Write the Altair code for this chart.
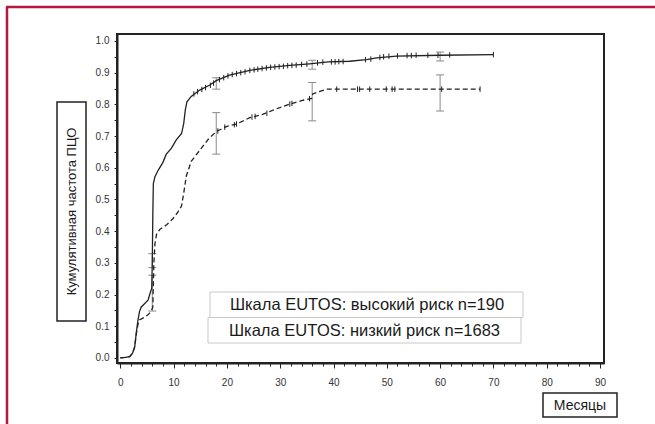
import altair as alt
import pandas as pd

# ---- data ----
solid_t = [0, 1.0, 1.75, 2.3, 2.7, 3.0, 3.3, 3.6, 3.9, 4.5, 5.2, 5.6, 5.9, 6.0, 6.1, 6.2, 6.5, 7.1, 8.0,
           8.6, 9.6, 10.5, 11.5, 11.9, 12.2, 12.5, 13.3, 14.9, 16.8, 18.0, 20.5, 24.3, 28.0, 31.8, 35.5,
           39.0, 43.0, 46.2, 48.1, 51.8, 60.0, 70.0]
solid_v = [0, 0.002, 0.004, 0.015, 0.035, 0.08, 0.118, 0.146, 0.16, 0.17, 0.182, 0.205, 0.22, 0.30, 0.45,
           0.55, 0.572, 0.592, 0.617, 0.642, 0.662, 0.688, 0.708, 0.74, 0.783, 0.808, 0.825, 0.845, 0.861,
           0.875, 0.892, 0.907, 0.917, 0.923, 0.928, 0.934, 0.936, 0.941, 0.947, 0.952, 0.955, 0.957]

dashed_t = [0, 1.0, 1.75, 2.3, 2.7, 3.0, 3.3, 3.6, 4.5, 5.2, 5.8, 6.1, 6.3, 6.5, 6.8, 7.4, 8.7, 9.9, 10.8,
            11.5, 11.9, 12.4, 13.3, 14.9, 16.5, 18.0, 19.9, 21.8, 24.3, 26.8, 29.3, 31.8, 34.3, 35.9, 36.1,
            37.1, 38.7, 67.5]
dashed_v = [0, 0.002, 0.004, 0.015, 0.035, 0.075, 0.105, 0.12, 0.128, 0.136, 0.148, 0.16, 0.30, 0.36, 0.39,
            0.405, 0.42, 0.44, 0.46, 0.48, 0.52, 0.575, 0.62, 0.655, 0.69, 0.714, 0.73, 0.738, 0.758, 0.769,
            0.786, 0.801, 0.813, 0.819, 0.833, 0.839, 0.848, 0.848]

solid_cens_t = [13.8, 14.5, 15.3, 16.0, 16.9, 17.5, 18.6, 19.4, 20.2, 21.0, 21.8, 22.6, 23.4, 24.3, 25.1,
                25.8, 26.6, 27.4, 28.2, 29.0, 29.8, 30.6, 31.4, 32.2, 33.0, 34.0, 35.0, 37.0, 38.0, 39.6,
                40.3, 41.0, 41.8, 46.0, 47.0, 48.7, 49.4, 50.4, 52.0, 53.8, 54.6, 55.5, 57.7, 59.6, 61.8, 70.0]
solid_cens_v = [0.833, 0.840, 0.847, 0.853, 0.860, 0.867, 0.878, 0.884, 0.890, 0.894, 0.897, 0.900, 0.903,
                0.907, 0.909, 0.911, 0.913, 0.915, 0.917, 0.918, 0.919, 0.920, 0.922, 0.923, 0.924, 0.926,
                0.927, 0.931, 0.933, 0.934, 0.934, 0.935, 0.935, 0.941, 0.943, 0.948, 0.950, 0.952, 0.953,
                0.954, 0.954, 0.955, 0.955, 0.955, 0.956, 0.957]

dashed_cens_t = [18.3, 19.6, 21.4, 21.8, 24.7, 25.3, 27.5, 31.8, 32.2, 35.5, 40.6, 44.5, 44.9, 46.8, 49.9,
                 51.0, 51.5, 60.3, 67.5]
dashed_cens_v = [0.716, 0.728, 0.736, 0.738, 0.760, 0.762, 0.772, 0.801, 0.803, 0.818, 0.848, 0.848, 0.848,
                 0.848, 0.848, 0.848, 0.848, 0.848, 0.848]

err_t = [6.0, 18.0, 36.0, 60.0, 6.0, 18.0, 36.0, 60.0]
err_lo = [0.285, 0.848, 0.911, 0.937, 0.148, 0.643, 0.748, 0.779]
err_hi = [0.329, 0.884, 0.939, 0.965, 0.261, 0.774, 0.869, 0.893]

legend_labels = ["Шкала EUTOS: высокий риск n=190", "Шкала EUTOS: низкий риск n=1683"]
y_title = "Кумулятивная частота ПЦО"
x_title = "Месяцы"

x_ticks = list(range(0, 91, 2))
y_ticks = [round(i * 0.05, 2) for i in range(21)]

FONT = "Liberation Sans"
INK = "#222222"

# ---- tables ----
solid_df = pd.DataFrame({"t": solid_t, "v": solid_v})
dashed_df = pd.DataFrame({"t": dashed_t, "v": dashed_v})
cens_df = pd.DataFrame({"t": solid_cens_t + dashed_cens_t, "v": solid_cens_v + dashed_cens_v})
err_df = pd.DataFrame({"t": err_t, "v": err_lo, "v2": err_hi})
one = pd.DataFrame({"k": [0]})

xs = alt.Scale(domain=[-0.62, 90.75], nice=False, zero=False)
ys = alt.Scale(domain=[-0.016, 1.022], nice=False, zero=False)

x_axis = alt.Axis(
    values=x_ticks, title=None, grid=False,
    labelExpr="datum.value % 10 === 0 ? datum.label : ''",
    tickSize={"condition": {"test": "datum.value % 10 === 0", "value": 5}, "value": 3},
    labelPadding=9, labelFlush=False, labelOverlap=False,
    labelFont=FONT, labelFontSize=10, labelColor="#333333",
    domainColor=INK, domainWidth=2, tickColor=INK, tickWidth=1,
)
y_axis = alt.Axis(
    values=y_ticks, title=None, grid=False,
    labelExpr="abs(datum.value*10 - round(datum.value*10)) < 0.000001 ? format(datum.value, '.1f') : ''",
    tickSize=3, labelPadding=5, labelFlush=False, labelOverlap=False,
    labelFont=FONT, labelFontSize=10, labelColor="#333333",
    domainColor=INK, domainWidth=2, tickColor=INK, tickWidth=1,
)

X = alt.X("t:Q", scale=xs, axis=x_axis)
Y = alt.Y("v:Q", scale=ys, axis=y_axis)

solid = alt.Chart(solid_df).mark_line(color=INK, strokeWidth=1.3).encode(x=X, y=Y)
dashed = alt.Chart(dashed_df).mark_line(color=INK, strokeWidth=1.3, strokeDash=[5, 3]).encode(x=X, y=Y)
cens = alt.Chart(cens_df).mark_point(shape="M0,-1L0,1", size=30, filled=False, color=INK,
                                     strokeWidth=1, opacity=1).encode(x=X, y=Y)
err_rule = alt.Chart(err_df).mark_rule(color="#8a8a8a", strokeWidth=1).encode(x=X, y=Y, y2="v2:Q")
err_lo_cap = alt.Chart(err_df).mark_point(shape="stroke", size=64, color="#8a8a8a", strokeWidth=1,
                                          opacity=1).encode(x=X, y=Y)
err_hi_cap = alt.Chart(err_df).mark_point(shape="stroke", size=64, color="#8a8a8a", strokeWidth=1,
                                          opacity=1).encode(x=X, y=alt.Y("v2:Q", scale=ys, axis=y_axis))

# ---- annotation boxes (legend / axis titles) ----
def box(x1, x2, y1, y2, stroke, sw):
    return alt.Chart(one).mark_rect(fill="white", stroke=stroke, strokeWidth=sw).encode(
        x=alt.value(x1), x2=alt.value(x2), y=alt.value(y1), y2=alt.value(y2))

def label(txt, x, y, size, weight="normal", angle=0):
    return alt.Chart(one).mark_text(text=txt, font=FONT, fontSize=size, fontWeight=weight, angle=angle,
                                    color="#1a1a1a", align="center", baseline="middle").encode(
        x=alt.value(x), y=alt.value(y))

leg1_box = box(93, 406, 258, 283.5, "#c8c8c8", 1)
leg2_box = box(91, 404, 283.5, 309, "#c8c8c8", 1)
leg1_txt = label(legend_labels[0], 250, 271, 16.5)
leg2_txt = label(legend_labels[1], 247.5, 296.5, 16.5)

yt_box = box(-60, -31, 68, 287, INK, 1.5)
yt_txt = label(y_title, -45.5, 177.5, 13, angle=270)
xt_box = box(426, 500, 359, 383, INK, 1.5)
xt_txt = label(x_title, 463, 371.5, 14)

frame_v = alt.Chart(one).mark_rule(color="#b4173f", strokeWidth=2.5).encode(
    x=alt.value(-110), y=alt.value(-27), y2=alt.value(400))
frame_h = alt.Chart(one).mark_rule(color="#b4173f", strokeWidth=2.5).encode(
    x=alt.value(-111), x2=alt.value(560), y=alt.value(-27))

chart = alt.layer(
    err_rule, err_lo_cap, err_hi_cap, solid, dashed, cens,
    leg1_box, leg2_box, leg1_txt, leg2_txt,
    yt_box, yt_txt, xt_box, xt_txt, frame_v, frame_h,
).properties(
    width=487, height=329,
    autosize=alt.AutoSizeParams(type="none"),
    padding={"left": 117, "top": 34, "right": 51, "bottom": 61},
    background="white",
).configure_view(stroke=INK, strokeWidth=2)

chart.save("out.html", embed_options={"renderer": "svg", "actions": False})
